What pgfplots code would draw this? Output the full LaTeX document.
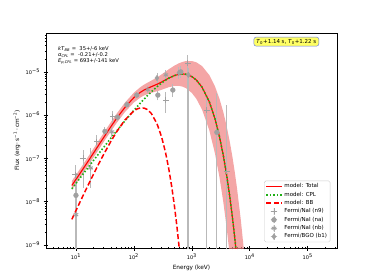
\documentclass[border=0pt]{standalone}
\usepackage{pgfplots}
\pgfplotsset{compat=1.18}
\usepackage{fontspec}
\setmainfont{DejaVu Sans}
\definecolor{bandc}{RGB}{240,128,128}
\definecolor{bargray}{RGB}{185,185,185}
\definecolor{markgray}{RGB}{160,160,160}
\definecolor{cplgreen}{RGB}{30,175,20}
\definecolor{boxyellow}{RGB}{255,255,100}
\definecolor{boxblue}{RGB}{110,130,230}
\pgfplotsset{
  datalegend/.style={legend image code/.code={
    \draw[draw=bargray, line width=0.8pt] (0.3cm,-0.12cm)--(0.3cm,0.12cm) (0.18cm,0cm)--(0.42cm,0cm);
    \path[##1, only marks] plot coordinates {(0.3cm,0cm)};}},
  modellegend/.style={legend image code/.code={
    \draw[##1] (0.03cm,0cm) -- (0.57cm,0cm);}},
  bars/.style={bargray, line width=0.9pt, unbounded coords=jump, forget plot},
}
\begin{document}
\begin{tikzpicture}
\useasboundingbox (-46pt,-32pt) rectangle (328pt,248pt);
\begin{axis}[
  at={(0pt,0pt)}, anchor=south west,
  width=291pt, height=215pt, scale only axis,
  xmode=log, ymode=log,
  xmin=3.04, xmax=3.2e5, ymin=8.5e-10, ymax=7.9e-5,
  xtick={10,100,1000,10000,100000},
  xticklabels={10\textsuperscript{1},10\textsuperscript{2},10\textsuperscript{3},10\textsuperscript{4},10\textsuperscript{5}},
  minor xtick={4,5,6,7,8,9,20,30,40,50,60,70,80,90,200,300,400,500,600,700,800,900,2000,3000,4000,5000,6000,7000,8000,9000,20000,30000,40000,50000,60000,70000,80000,90000,200000,300000},
  ytick={1e-9,1e-8,1e-7,1e-6,1e-5},
  yticklabels={10\textsuperscript{−9},10\textsuperscript{−8},10\textsuperscript{−7},10\textsuperscript{−6},10\textsuperscript{−5}},
  minor ytick={2e-9,3e-9,4e-9,5e-9,6e-9,7e-9,8e-9,9e-9,2e-8,3e-8,4e-8,5e-8,6e-8,7e-8,8e-8,9e-8,2e-7,3e-7,4e-7,5e-7,6e-7,7e-7,8e-7,9e-7,2e-6,3e-6,4e-6,5e-6,6e-6,7e-6,8e-6,9e-6,2e-5,3e-5,4e-5,5e-5,6e-5,7e-5},
  xtick pos=left, ytick pos=left,
  tick align=center,
  major tick length=5pt, minor tick length=2.5pt,
  tick style={black, line width=0.6pt},
  axis line style={line width=0.9pt},
  tick label style={font=\fontsize{5}{6}\selectfont},
  label style={font=\fontsize{5.8}{7}\selectfont},
  xlabel={Energy (keV)},
  ylabel={Flux (erg\,·\,s\textsuperscript{−1}\,·\,cm\textsuperscript{−2})},
  xlabel style={at={(axis description cs:0.5,-0.093)}, anchor=center},
  ylabel style={at={(axis description cs:-0.1,0.5)}, anchor=center},
  legend style={at={(axis description cs:0.977,0.027)}, anchor=south east,
    font=\fontsize{5.5}{6}\selectfont, draw=black!20, rounded corners=1.5pt,
    fill=white, row sep=0pt,
    inner sep=1.2pt, nodes={inner ysep=1.35pt}},
  legend cell align=left,
]
% uncertainty band
\addplot[draw=none, fill=bandc, fill opacity=0.7, forget plot] coordinates {
(8.5,3.005e-8)(10,4.136e-8)(12,5.942e-8)(15,9.311e-8)(20,1.675e-7)(25,2.650e-7)(30,3.851e-7)(40,6.887e-7)(50,1.064e-6)(70,1.944e-6)(100,3.308e-6)(130,4.455e-6)(150,5.069e-6)(200,6.273e-6)(250,7.413e-6)(300,8.698e-6)(400,1.146e-5)(500,1.393e-5)(600,1.582e-5)(700,1.708e-5)(800,1.778e-5)(1000,1.780e-5)(1200,1.658e-5)(1500,1.362e-5)(2000,8.433e-6)(2500,4.650e-6)(3000,2.384e-6)(3500,1.162e-6)(4000,5.456e-7)(4500,2.491e-7)(5000,1.113e-7)(5500,4.884e-8)(6000,2.110e-8)(7000,3.806e-9)(8000,6.61e-10)
(4500,5.92e-10)(4000,2.409e-9)(3500,9.56e-9)(3000,3.646e-8)(2500,1.321e-7)(2000,4.468e-7)(1500,1.341e-6)(1200,2.364e-6)(1000,3.252e-6)(800,4.161e-6)(700,4.526e-6)(600,4.741e-6)(500,4.727e-6)(400,4.415e-6)(300,3.855e-6)(250,3.560e-6)(200,3.274e-6)(150,2.849e-6)(130,2.562e-6)(100,1.958e-6)(70,1.174e-6)(50,6.491e-7)(40,4.224e-7)(30,2.373e-7)(25,1.637e-7)(20,1.037e-7)(15,5.786e-8)(12,3.699e-8)(10,2.579e-8)(8.5,1.877e-8)
};
% error bars (vertical then horizontal)
\addplot[bars] coordinates {
(9.8,1e-10)(9.8,7.1e-8)(9.8,nan)
(13.2,2.1e-8)(13.2,1.6e-7)(13.2,nan)
(23.0,1.4e-7)(23.0,3.5e-7)(23.0,nan)
(43.4,6.3e-7)(43.4,1.26e-6)(43.4,nan)
(356,1.13e-6)(356,3.45e-6)(356,nan)
(850,1e-10)(850,2.47e-5)(850,nan)
(1815,1e-10)(1815,2.9e-6)(1815,nan)
(4000,1e-10)(4000,1.74e-6)(4000,nan)
(10.0,1e-10)(10.0,4.5e-8)(10.0,nan)
(31.6,3.3e-7)(31.6,5.4e-7)(31.6,nan)
(52,7.3e-7)(52,1.08e-6)(52,nan)
(75.7,1.45e-6)(75.7,2.1e-6)(75.7,nan)
(112,2.45e-6)(112,3.45e-6)(112,nan)
(259,2.2e-6)(259,3.7e-6)(259,nan)
(470,2.6e-6)(470,5.3e-6)(470,nan)
(645,7.3e-6)(645,1.35e-5)(645,nan)
(2700,1e-10)(2700,3.3e-6)(2700,nan)
(17.9,2.1e-8)(17.9,1.75e-7)(17.9,nan)
(41.7,3.2e-7)(41.7,5.2e-7)(41.7,nan)
(174,3.2e-6)(174,4.6e-6)(174,nan)
(356,6.5e-6)(356,1.1e-5)(356,nan)
(250,5.5e-6)(250,9.5e-6)(250,nan)
(597,7e-6)(597,1.3e-5)(597,nan)
(870,1e-10)(870,1.2e-5)(870,nan)
};
\addplot[bars] coordinates {
(8.6,4.2e-8)(11.2,4.2e-8)(nan,4.2e-8)
(11.6,1.0e-7)(14.8,1.0e-7)(nan,1.0e-7)
(20.5,2.4e-7)(25.5,2.4e-7)(nan,2.4e-7)
(39,9.1e-7)(48,9.1e-7)(nan,9.1e-7)
(320,2.24e-6)(395,2.24e-6)(nan,2.24e-6)
(760,1.6e-5)(950,1.6e-5)(nan,1.6e-5)
(1650,1.3e-6)(2000,1.3e-6)(nan,1.3e-6)
(3600,5e-8)(4400,5e-8)(nan,5e-8)
(16,6e-8)(20,6e-8)(nan,6e-8)
};
% data markers
\addplot[only marks, mark=+, mark size=3pt, markgray, line width=0.9pt, forget plot] coordinates {
(9.8,4.2e-8)(13.2,1.0e-7)(23.0,2.4e-7)(43.4,9.1e-7)(356,2.24e-6)(850,1.6e-5)(1815,1.3e-6)(4000,5e-8)};
\addplot[only marks, mark=*, mark size=2.4pt, markgray, forget plot] coordinates {
(10.0,1.4e-8)(31.6,4.2e-7)(52,8.9e-7)(75.7,1.74e-6)(112,2.9e-6)(259,2.9e-6)(470,3.8e-6)(645,1.0e-5)(2700,4e-7)};
\addplot[only marks, mark=asterisk, mark size=2.6pt, markgray, line width=0.9pt, forget plot] coordinates {
(10.0,5e-9)(17.9,6e-8)(41.7,4.1e-7)(174,3.85e-6)(356,8.5e-6)};
\addplot[only marks, mark=diamond*, mark size=2.7pt, markgray, forget plot] coordinates {
(250,7.2e-6)(597,9.5e-6)(870,8.5e-6)};
% models
\addplot[red, line width=1.1pt, forget plot] coordinates {
(8.5,2.375e-8)(10,3.267e-8)(12,4.690e-8)(15,7.342e-8)(20,1.318e-7)(25,2.084e-7)(30,3.024e-7)(40,5.395e-7)(50,8.313e-7)(70,1.511e-6)(100,2.547e-6)(115,2.996e-6)(130,3.382e-6)(150,3.803e-6)(170,4.136e-6)(200,4.541e-6)(250,5.157e-6)(300,5.824e-6)(350,6.520e-6)(400,7.177e-6)(500,8.206e-6)(600,8.780e-6)(700,8.935e-6)(800,8.755e-6)(1000,7.784e-6)(1200,6.436e-6)(1500,4.418e-6)(2000,2.032e-6)(2500,8.325e-7)(3000,3.170e-7)(3500,1.147e-7)(4000,4.004e-8)(4500,1.358e-8)(5000,4.506e-9)(5500,1.468e-9)(6000,4.711e-10)};
\addplot[cplgreen, line width=1.6pt, dash pattern=on 1.5pt off 2pt, forget plot] coordinates {
(8.5,1.984e-8)(10,2.644e-8)(12,3.645e-8)(15,5.393e-8)(20,8.908e-8)(25,1.312e-7)(30,1.794e-7)(40,2.926e-7)(50,4.255e-7)(70,7.373e-7)(100,1.292e-6)(115,1.595e-6)(130,1.912e-6)(150,2.348e-6)(170,2.788e-6)(200,3.451e-6)(250,4.521e-6)(300,5.508e-6)(350,6.380e-6)(400,7.120e-6)(500,8.198e-6)(600,8.779e-6)(700,8.935e-6)(800,8.755e-6)(1000,7.784e-6)(1200,6.436e-6)(1500,4.418e-6)(2000,2.032e-6)(2500,8.325e-7)(3000,3.170e-7)(3500,1.147e-7)(4000,4.004e-8)(4500,1.358e-8)(5000,4.506e-9)(5500,1.468e-9)(6000,4.711e-10)};
\addplot[red, line width=1.5pt, dash pattern=on 5pt off 2.5pt, forget plot] coordinates {
(8.5,3.912e-9)(10,6.229e-9)(12,1.0445e-8)(15,1.949e-8)(20,4.276e-8)(25,7.717e-8)(30,1.230e-7)(40,2.469e-7)(50,4.058e-7)(70,7.741e-7)(100,1.2551e-6)(115,1.4006e-6)(130,1.4696e-6)(150,1.4553e-6)(170,1.348e-6)(200,1.0901e-6)(250,6.363e-7)(300,3.162e-7)(350,1.403e-7)(400,5.731e-8)(450,2.206e-8)(500,8.035e-9)(550,2.82e-9)(600,9.57e-10)(650,3.16e-10)};
% legend
\addlegendimage{modellegend, draw=red, line width=1.2pt, solid}
\addlegendentry{model: Total}
\addlegendimage{modellegend, draw=cplgreen, line width=1.6pt, dash pattern=on 1.5pt off 2pt}
\addlegendentry{model: CPL}
\addlegendimage{modellegend, draw=red, line width=1.5pt, dash pattern=on 5pt off 2.5pt}
\addlegendentry{model: BB}
\addlegendimage{datalegend, mark=+, mark size=3pt, draw=markgray, fill=markgray, line width=0.9pt}
\addlegendentry{Fermi/NaI (n9)}
\addlegendimage{datalegend, mark=*, mark size=2.4pt, draw=markgray, fill=markgray}
\addlegendentry{Fermi/NaI (na)}
\addlegendimage{datalegend, mark=asterisk, mark size=2.6pt, draw=markgray, fill=markgray, line width=0.9pt}
\addlegendentry{Fermi/NaI (nb)}
\addlegendimage{datalegend, mark=diamond*, mark size=2.7pt, draw=markgray, fill=markgray}
\addlegendentry{Fermi/BGO (b1)}
% annotations
\node[anchor=north west, align=left, inner sep=0pt, font=\fontsize{5.2}{6.3}\selectfont]
  at (axis description cs:0.041,0.94)
  {\textit{kT}\textsubscript{\textit{BB}} =\ \ 35+/-6 keV\\
   \textit{α}\textsubscript{\textit{CPL}} =\ \ -0.21+/-0.2\\
   \textit{E}\textsubscript{\textit{p,CPL}} = 693+/-141 keV};
\node[fill=boxyellow, draw=boxblue, line width=0.5pt, rounded corners=2pt,
  inner xsep=2.5pt, inner ysep=1.8pt, font=\fontsize{5.5}{6}\selectfont]
  at (axis description cs:0.826,0.960)
  {\textit{T}\textsubscript{0}+1.14 s, \textit{T}\textsubscript{0}+1.22 s};
\end{axis}
\end{tikzpicture}
\end{document}
